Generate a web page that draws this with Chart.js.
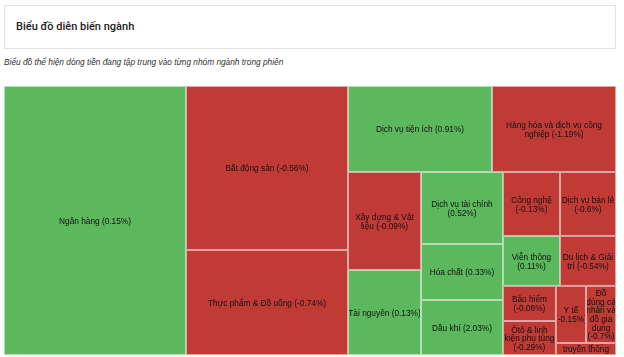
<!DOCTYPE html>
<html>
<head>
<meta charset="utf-8">
<script src="https://cdn.jsdelivr.net/npm/chart.js@4/dist/chart.umd.min.js"></script>
<style>
  html, body { margin: 0; padding: 0; background: #fff; width: 624px; height: 357px; overflow: hidden; }
  #titleBox { position: absolute; left: 4px; top: 5px; width: 610px; height: 42px; border: 1px solid #e2e2e2; box-sizing: content-box; }
  #title { position: absolute; left: 11px; top: 14px; font: 500 11px Roboto, "Liberation Sans", Arial, sans-serif; color: #222; white-space: nowrap; }
  #subtitle { position: absolute; left: 4px; top: 57px; font: italic 8.3px "Liberation Sans", Arial, sans-serif; color: #333; white-space: nowrap; }
  #wrap { position: absolute; left: 4px; top: 86px; width: 612px; height: 269px; }
</style>
</head>
<body>
<div id="titleBox"><div id="title">Biểu đồ diễn biến ngành</div></div>
<div id="subtitle">Biểu đồ thể hiện dòng tiền đang tập trung vào từng nhóm ngành trong phiên</div>
<div id="wrap"><canvas id="c" width="612" height="269"></canvas></div>
<script>
// Sector names ("\n" marks a line break as shown in the chart; a trailing "\n" puts the % on its own line)
const sectors = [
  "Ngân hàng",
  "Bất động sản",
  "Thực phẩm & Đồ uống",
  "Dịch vụ tiện ích",
  "Hàng hóa và dịch vụ công\nnghiệp",
  "Xây dựng & Vật\nliệu",
  "Tài nguyên",
  "Dịch vụ tài chính\n",
  "Hóa chất",
  "Dầu khí",
  "Công nghệ\n",
  "Dịch vụ bán lẻ\n",
  "Viễn thông\n",
  "Du lịch & Giải\ntrí",
  "Bảo hiểm\n",
  "Ôtô & linh\nkiện phụ tùng\n",
  "Y tế\n",
  "Đồ\ndùng cá\nnhân và\nđồ gia\ndụng\n",
  "Phương tiện\ntruyền thông\n"
];
// Relative weight of each sector (cell size)
const weights = [4896, 2657, 1701, 1238, 1066, 715, 621, 590, 459, 451, 365, 358, 285, 280, 186, 180, 172, 171, 72];
// Price change in percent
const changes = [0.15, -0.56, -0.74, 0.91, -1.19, -0.09, 0.13, 0.52, 0.33, 2.03, -0.13, -0.6, 0.11, -0.54, -0.06, -0.29, -0.15, -0.7, -0.2];

const UP_COLOR = '#5cb85c';
const DOWN_COLOR = '#c03a36';
const DOMAIN_W = 612, DOMAIN_H = 269;

function worst(row, s) {
  const sum = row.reduce((a, b) => a + b.area, 0);
  let mx = -Infinity, mn = Infinity;
  row.forEach(r => { mx = Math.max(mx, r.area); mn = Math.min(mn, r.area); });
  const s2 = s * s, sum2 = sum * sum;
  return Math.max(s2 * mx / sum2, sum2 / (s2 * mn));
}

function squarify(items, rect) {
  const out = [];
  let i = 0;
  let { x, y, w, h } = rect;
  while (i < items.length) {
    const short = Math.min(w, h);
    const row = [items[i]];
    let j = i + 1;
    while (j < items.length && worst(row.concat([items[j]]), short) <= worst(row, short)) {
      row.push(items[j]); j++;
    }
    const sum = row.reduce((a, b) => a + b.area, 0);
    if (w >= h) {
      const cw = sum / h;
      let cy = y;
      row.forEach(r => { const rh = r.area / cw; out.push({ ...r, x0: x, x1: x + cw, y0: cy, y1: cy + rh }); cy += rh; });
      x += cw; w -= cw;
    } else {
      const ch = sum / w;
      let cx = x;
      row.forEach(r => { const rw = r.area / ch; out.push({ ...r, x0: cx, x1: cx + rw, y0: y, y1: y + ch }); cx += rw; });
      y += ch; h -= ch;
    }
    i = j;
  }
  return out;
}

function buildCells() {
  const total = weights.reduce((a, b) => a + b, 0);
  const scale = DOMAIN_W * DOMAIN_H / total;
  const items = sectors.map((name, k) => ({ k, name, change: changes[k], area: weights[k] * scale }))
    .sort((a, b) => b.area - a.area);
  return squarify(items, { x: 0, y: 0, w: DOMAIN_W, h: DOMAIN_H });
}

function labelLines(name, change) {
  const pct = '(' + String(change) + '%)';
  const txt = name.endsWith('\n') ? name + pct : name + ' ' + pct;
  return txt.split('\n');
}

const treemapPlugin = {
  id: 'treemapCells',
  afterDatasetsDraw(chart) {
    const ctx = chart.ctx, xs = chart.scales.x, ys = chart.scales.y;
    const cells = buildCells();
    cells.forEach(c => {
      const px0 = xs.getPixelForValue(c.x0), px1 = xs.getPixelForValue(c.x1);
      const py0 = ys.getPixelForValue(c.y0), py1 = ys.getPixelForValue(c.y1);
      const l = Math.min(px0, px1), r = Math.max(px0, px1);
      const t = Math.min(py0, py1), b = Math.max(py0, py1);
      ctx.save();
      ctx.fillStyle = c.change >= 0 ? UP_COLOR : DOWN_COLOR;
      ctx.fillRect(l, t, r - l, b - t);
      ctx.strokeStyle = 'rgba(255,255,255,0.55)';
      ctx.lineWidth = 1;
      ctx.strokeRect(l + 0.5, t + 0.5, r - l - 1, b - t - 1);
      ctx.beginPath();
      ctx.rect(l + 1, t + 1, r - l - 2, b - t - 2);
      ctx.clip();
      const lines = labelLines(c.name, c.change);
      const lh = 8.6;
      ctx.fillStyle = '#111';
      ctx.font = '8.3px "Liberation Sans", Arial, sans-serif';
      ctx.textAlign = 'center';
      ctx.textBaseline = 'middle';
      const cx = (l + r) / 2, cy = (t + b) / 2 + 1;
      lines.forEach((ln, i) => {
        ctx.fillText(ln, cx, cy - (lines.length - 1) * lh / 2 + i * lh);
      });
      ctx.restore();
    });
  }
};

new Chart(document.getElementById('c'), {
  type: 'scatter',
  data: { datasets: [{ data: [], pointRadius: 0 }] },
  options: {
    responsive: false,
    animation: false,
    devicePixelRatio: 1,
    layout: { padding: 0 },
    plugins: { legend: { display: false }, tooltip: { enabled: false } },
    scales: {
      x: { type: 'linear', min: 0, max: DOMAIN_W, display: false },
      y: { type: 'linear', min: 0, max: DOMAIN_H, reverse: true, display: false }
    }
  },
  plugins: [treemapPlugin]
});
</script>
</body>
</html>
